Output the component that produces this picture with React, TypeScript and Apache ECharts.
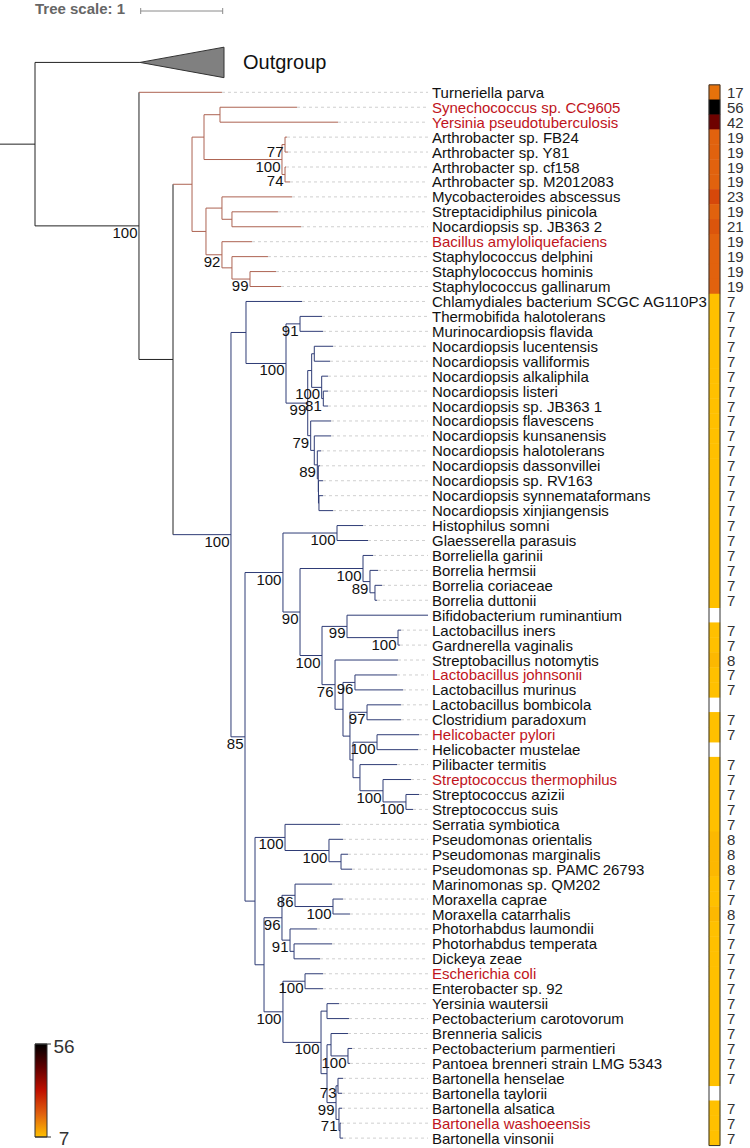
import React, { useEffect, useRef } from "react";
import * as echarts from "echarts";

const FONT = '"Liberation Sans", Arial, Helvetica, sans-serif';

// ---------- data ----------
const leafNames = [
  "Turneriella parva", "Synechococcus sp. CC9605", "Yersinia pseudotuberculosis",
  "Arthrobacter sp. FB24", "Arthrobacter sp. Y81", "Arthrobacter sp. cf158", "Arthrobacter sp. M2012083",
  "Mycobacteroides abscessus", "Streptacidiphilus pinicola", "Nocardiopsis sp. JB363 2",
  "Bacillus amyloliquefaciens", "Staphylococcus delphini", "Staphylococcus hominis", "Staphylococcus gallinarum",
  "Chlamydiales bacterium SCGC AG110P3", "Thermobifida halotolerans", "Murinocardiopsis flavida",
  "Nocardiopsis lucentensis", "Nocardiopsis valliformis", "Nocardiopsis alkaliphila", "Nocardiopsis listeri",
  "Nocardiopsis sp. JB363 1", "Nocardiopsis flavescens", "Nocardiopsis kunsanensis", "Nocardiopsis halotolerans",
  "Nocardiopsis dassonvillei", "Nocardiopsis sp. RV163", "Nocardiopsis synnemataformans", "Nocardiopsis xinjiangensis",
  "Histophilus somni", "Glaesserella parasuis", "Borreliella garinii", "Borrelia hermsii", "Borrelia coriaceae",
  "Borrelia duttonii", "Bifidobacterium ruminantium", "Lactobacillus iners", "Gardnerella vaginalis",
  "Streptobacillus notomytis", "Lactobacillus johnsonii", "Lactobacillus murinus", "Lactobacillus bombicola",
  "Clostridium paradoxum", "Helicobacter pylori", "Helicobacter mustelae", "Pilibacter termitis",
  "Streptococcus thermophilus", "Streptococcus azizii", "Streptococcus suis", "Serratia symbiotica",
  "Pseudomonas orientalis", "Pseudomonas marginalis", "Pseudomonas sp. PAMC 26793", "Marinomonas sp. QM202",
  "Moraxella caprae", "Moraxella catarrhalis", "Photorhabdus laumondii", "Photorhabdus temperata", "Dickeya zeae",
  "Escherichia coli", "Enterobacter sp. 92", "Yersinia wautersii", "Pectobacterium carotovorum", "Brenneria salicis",
  "Pectobacterium parmentieri", "Pantoea brenneri strain LMG 5343", "Bartonella henselae", "Bartonella taylorii",
  "Bartonella alsatica", "Bartonella washoeensis", "Bartonella vinsonii",
];

const highlightedLeaves = [1, 2, 10, 39, 43, 46, 59, 69];

// tip depth of every leaf (tree scale units)
const tipDepth = [
  2.280, 3.195, 3.695, 3.073, 3.085, 3.061, 3.110, 3.134, 2.963, 3.244,
  2.646, 2.841, 2.939, 3.000, 3.256, 3.500, 3.512, 3.634, 3.598, 3.573,
  3.573, 3.573, 3.610, 3.610, 3.488, 3.476, 3.512, 3.512, 3.634, 4.000,
  4.061, 4.122, 4.183, 4.232, 4.171, 4.793, 4.463, 4.451, 4.427, 4.415,
  4.488, 4.463, 4.463, 4.683, 4.671, 4.415, 4.585, 4.683, 4.610, 3.720,
  3.756, 3.817, 3.866, 3.622, 3.756, 3.841, 3.439, 3.622, 3.476, 3.512,
  3.512, 3.707, 3.829, 3.817, 3.866, 3.841, 3.756, 3.744, 3.744, 3.732,
  3.756,
];

// copy numbers (null = absent)
const geneCount: (number | null)[] = [
  17, 56, 42, 19, 19, 19, 19, 23, 19, 21,
  19, 19, 19, 19, 7, 7, 7, 7, 7, 7,
  7, 7, 7, 7, 7, 7, 7, 7, 7, 7,
  7, 7, 7, 7, 7, null, 7, 7, 8, 7,
  7, null, 7, 7, null, 7, 7, 7, 7, 7,
  8, 8, 8, 7, 7, 8, 7, 7, 7, 7,
  7, 7, 7, 7, 7, 7, 7, null, 7, 7,
  7,
];

// internal nodes: [id, depth, children (leaf index or node id), bootstrap]
const treeNodes: [string, number, (string | number)[], string][] = [
  ["root", 0, ["OUT", "A"], ""],
  ["A", 1.268, [0, "B"], "100"],
  ["B", 1.683, ["C", "D"], ""],
  ["C", 1.915, ["CA", "CD"], ""],
  ["CA", 2.061, ["CB", "CC"], ""],
  ["CB", 2.256, [1, 2], ""],
  ["CC", 3.012, ["CC1", "CC2"], "100"],
  ["CC1", 3.049, [3, 4], "77"],
  ["CC2", 3.049, [5, 6], "74"],
  ["CD", 2.085, ["CE", "CG"], ""],
  ["CE", 2.280, [7, "CF"], ""],
  ["CF", 2.402, [8, 9], ""],
  ["CG", 2.280, [10, "CH"], "92"],
  ["CH", 2.402, [11, "CI"], ""],
  ["CI", 2.622, [12, 13], "99"],
  ["D", 2.390, ["E", "F"], "100"],
  ["E", 2.573, [14, "G"], ""],
  ["G", 3.061, ["H", "I"], "100"],
  ["H", 3.232, [15, 16], "91"],
  ["I", 3.326, ["M", "N"], "99"],
  ["M", 3.374, ["J", "K"], ""],
  ["J", 3.406, [17, 18], ""],
  ["K", 3.496, [19, "L"], "100"],
  ["L", 3.516, [20, 21], "81"],
  ["N", 3.362, [22, "O"], "79"],
  ["O", 3.406, [23, "P"], ""],
  ["P", 3.443, [24, "Q"], "89"],
  ["Q", 3.455, [25, "R"], ""],
  ["R", 3.457, [26, "S"], ""],
  ["S", 3.463, [27, 28], ""],
  ["F", 2.561, ["T", "U"], "85"],
  ["T", 3.024, ["W", "X"], "100"],
  ["W", 3.683, [29, 30], "100"],
  ["X", 3.232, ["Y", "AA"], "90"],
  ["Y", 4.000, [31, "Z"], "100"],
  ["Z", 4.085, [32, "Z2"], "89"],
  ["Z2", 4.146, [33, 34], ""],
  ["AA", 3.500, ["AB", "AD"], "100"],
  ["AB", 3.805, [35, "AC"], "99"],
  ["AC", 4.427, [36, 37], "100"],
  ["AD", 3.659, [38, "AE"], "76"],
  ["AE", 3.756, ["AF", "AG"], ""],
  ["AF", 3.902, [39, 40], "96"],
  ["AG", 3.841, ["AH", "AN"], ""],
  ["AH", 4.049, [41, 42], "97"],
  ["AN", 3.878, ["AJ", "AK"], ""],
  ["AJ", 4.171, [43, 44], "100"],
  ["AK", 3.963, [45, "AL"], ""],
  ["AL", 4.244, [46, "AM"], "100"],
  ["AM", 4.524, [47, 48], "100"],
  ["U", 2.683, ["V", "AO"], ""],
  ["V", 3.049, [49, "AP"], "100"],
  ["AP", 3.585, [50, "AQ"], "100"],
  ["AQ", 3.732, [51, 52], ""],
  ["AO", 2.793, ["AR", "AS"], ""],
  ["AR", 3.012, ["BF", "BH"], "96"],
  ["BF", 3.171, [53, "BG"], "86"],
  ["BG", 3.634, [54, 55], "100"],
  ["BH", 3.110, [56, "BI"], "91"],
  ["BI", 3.159, [57, 58], ""],
  ["AS", 3.024, ["AT", "AU"], "100"],
  ["AT", 3.293, [59, 60], "100"],
  ["AU", 3.488, ["AV", "AZ"], "100"],
  ["AV", 3.561, [61, 62], ""],
  ["AZ", 3.561, ["AY", "BE"], ""],
  ["AY", 3.610, [63, "AX"], ""],
  ["AX", 3.817, [64, 65], "100"],
  ["BE", 3.671, ["BB", "BC"], "99"],
  ["BB", 3.695, [66, 67], "73"],
  ["BC", 3.707, [68, "BD"], "71"],
  ["BD", 3.720, [69, 70], ""],
];

const outgroupName = "Outgroup";
const outgroupRow = -2;
const outgroupBranchEnd = 1.28;
const outgroupCladeEnd = 2.305;
const redCladeRoots: (string | number)[] = ["C", 0];
const blueCladeRoots: (string | number)[] = ["D"];
const scaleLength = 1;

// ---------- layout constants ----------
const W = 750;
const H = 1148;
const ROW0 = 92.3;
const ROW_H = 14.94;
const ROOT_PX = 35;
const PX_PER_UNIT = 82;
const LABEL_PX = 432;
const LEADER_END_PX = 428;
const HEAT_LEFT = 709;
const HEAT_W = 11;

const RED = "#ad6352";
const BLUE = "#2f3c76";
const BLACK = "#222222";
const HEAT_COLORS = ["#ffc000", "#e0600e", "#c01000", "#600000", "#000000"];

const pxToDepth = (px: number) => (px - ROOT_PX) / PX_PER_UNIT;
const pxToRow = (py: number) => (py - ROW0) / ROW_H;

// ---------- tree geometry ----------
const nodeMap = new Map(treeNodes.map((n) => [n[0], n]));
const yMemo = new Map<string, number>();
function rowOf(c: string | number): number {
  if (typeof c === "number") return c;
  if (c === "OUT") return outgroupRow;
  if (yMemo.has(c)) return yMemo.get(c)!;
  const kids = nodeMap.get(c)![2];
  const y = (rowOf(kids[0]) + rowOf(kids[kids.length - 1])) / 2;
  yMemo.set(c, y);
  return y;
}
function depthOf(c: string | number): number {
  if (typeof c === "number") return tipDepth[c];
  if (c === "OUT") return outgroupBranchEnd;
  return nodeMap.get(c)![1];
}
function collect(c: string | number, set: Set<string | number>) {
  set.add(c);
  if (typeof c === "string" && nodeMap.has(c)) nodeMap.get(c)![2].forEach((k) => collect(k, set));
}
const redSet = new Set<string | number>();
redCladeRoots.forEach((r) => collect(r, redSet));
const blueSet = new Set<string | number>();
blueCladeRoots.forEach((r) => collect(r, blueSet));
const colorKey = (c: string | number) => (redSet.has(c) ? "red" : blueSet.has(c) ? "blue" : "black");

const segs: Record<string, number[][]> = { red: [], blue: [], black: [] };
treeNodes.forEach(([id, d, kids]) => {
  const y0 = rowOf(kids[0]);
  const y1 = rowOf(kids[kids.length - 1]);
  segs[colorKey(id)].push([d, y0, d, y1]);
  kids.forEach((k) => {
    const yk = rowOf(k);
    segs[colorKey(k)].push([d, yk, depthOf(k), yk]);
  });
});
segs.black.push([pxToDepth(0), rowOf("root"), 0, rowOf("root")]);

const supportData = treeNodes
  .filter((n) => n[3] !== "")
  .map((n) => [n[1], rowOf(n[0])]);
const supportText = treeNodes.filter((n) => n[3] !== "").map((n) => n[3]);

const leaderData = tipDepth
  .map((d, i) => [d, i, pxToDepth(LEADER_END_PX), i])
  .filter((s) => s[0] < s[2]);

export default function App() {
  const ref = useRef<HTMLDivElement>(null);
  useEffect(() => {
    document.body.style.margin = "0";
    const chart = echarts.init(ref.current!, null, { renderer: "svg" });

    const segSeries = (data: number[][], color: string, extra: any = {}) => ({
      type: "custom",
      coordinateSystem: "cartesian2d",
      xAxisIndex: 0,
      yAxisIndex: 0,
      silent: true,
      clip: false,
      encode: { x: [0, 2], y: [1, 3] },
      data,
      renderItem: (_p: any, api: any) => {
        const a = api.coord([api.value(0), api.value(1)]);
        const b = api.coord([api.value(2), api.value(3)]);
        return {
          type: "line",
          shape: { x1: a[0], y1: a[1], x2: b[0], y2: b[1] },
          style: { stroke: color, lineWidth: 1, ...extra },
        };
      },
    });

    const counts = geneCount.filter((v) => v != null) as number[];
    const cMin = Math.min(...counts);
    const cMax = Math.max(...counts);

    const heatTop = ROW0 - ROW_H / 2;
    const heatH = ROW_H * leafNames.length;

    const legendX = 35;
    const legendY = 1044;
    const legendH = 93;

    const series: any[] = [
      segSeries(leaderData, "#cfcfcf", { lineDash: [3, 3] }),
      segSeries(segs.black, BLACK),
      segSeries(segs.red, RED),
      segSeries(segs.blue, BLUE),
      {
        type: "custom",
        coordinateSystem: "cartesian2d",
        xAxisIndex: 0,
        yAxisIndex: 0,
        silent: true,
        clip: false,
        data: supportData,
        renderItem: (p: any, api: any) => {
          const a = api.coord([api.value(0), api.value(1)]);
          return {
            type: "text",
            x: a[0] - 1.5,
            y: a[1] + 6.5,
            style: {
              text: supportText[p.dataIndex],
              fontSize: 15,
              lineHeight: 11,
              fontFamily: FONT,
              fill: "#111",
              align: "right",
              verticalAlign: "middle",
            },
          };
        },
      },
      {
        // collapsed outgroup
        type: "custom",
        coordinateSystem: "cartesian2d",
        xAxisIndex: 0,
        yAxisIndex: 0,
        silent: true,
        clip: false,
        data: [[outgroupBranchEnd, outgroupRow, outgroupCladeEnd]],
        renderItem: (_p: any, api: any) => {
          const a = api.coord([api.value(0), api.value(1)]);
          const top = api.coord([api.value(2), api.value(1) - 1.02]);
          const bot = api.coord([api.value(2), api.value(1) + 1.02]);
          return {
            type: "group",
            children: [
              {
                type: "polygon",
                shape: { points: [a, top, bot] },
                style: { fill: "#808080", stroke: "#333", lineWidth: 1 },
              },
              {
                type: "text",
                x: top[0] + 19,
                y: a[1],
                style: {
                  text: outgroupName,
                  fontSize: 20,
                  fontFamily: FONT,
                  fill: "#111",
                  align: "left",
                  verticalAlign: "middle",
                },
              },
            ],
          };
        },
      },
      {
        // tree scale bar
        type: "custom",
        coordinateSystem: "cartesian2d",
        xAxisIndex: 0,
        yAxisIndex: 0,
        silent: true,
        clip: false,
        data: [[pxToDepth(140.7), pxToRow(11)]],
        renderItem: (_p: any, api: any) => {
          const a = api.coord([api.value(0), api.value(1)]);
          const b = api.coord([api.value(0) + scaleLength, api.value(1)]);
          const st = { stroke: "#8a8a8a", lineWidth: 1 };
          return {
            type: "group",
            children: [
              { type: "line", shape: { x1: a[0], y1: a[1], x2: b[0], y2: b[1] }, style: st },
              { type: "line", shape: { x1: a[0], y1: a[1] - 3, x2: a[0], y2: a[1] + 3 }, style: st },
              { type: "line", shape: { x1: b[0], y1: b[1] - 3, x2: b[0], y2: b[1] + 3 }, style: st },
            ],
          };
        },
      },
      {
        type: "heatmap",
        xAxisIndex: 1,
        yAxisIndex: 1,
        data: geneCount
          .map((v, i) => (v == null ? null : [0, i, v]))
          .filter((d) => d !== null),
        itemStyle: { borderWidth: 0 },
        silent: true,
      },
      {
        type: "custom",
        xAxisIndex: 1,
        yAxisIndex: 1,
        silent: true,
        z: 5,
        data: [[0, 0]],
        renderItem: (p: any) => {
          const cs = p.coordSys;
          return {
            type: "rect",
            shape: { x: cs.x, y: cs.y, width: cs.width, height: cs.height },
            style: { fill: "none", stroke: "#333", lineWidth: 1 },
          };
        },
      },
    ];
    const heatIndex = series.findIndex((s) => s.type === "heatmap");

    chart.setOption({
      animation: false,
      backgroundColor: "#fff",
      title: {
        text: "Tree scale: " + scaleLength,
        left: ROOT_PX,
        top: 1,
        padding: 0,
        textStyle: { fontSize: 15, fontWeight: "bold", color: "#666", fontFamily: FONT },
      },
      grid: [
        { left: 0, right: 0, top: 0, bottom: 0 },
        {
          left: HEAT_LEFT,
          width: HEAT_W,
          top: heatTop,
          height: heatH,
          show: true,
          backgroundColor: "#fff",
          borderWidth: 0,
        },
      ],
      xAxis: [
        { type: "value", gridIndex: 0, min: pxToDepth(0), max: pxToDepth(W), show: false },
        { type: "category", gridIndex: 1, data: [""], show: false },
      ],
      yAxis: [
        { type: "value", gridIndex: 0, inverse: true, min: pxToRow(0), max: pxToRow(H), show: false },
        {
          type: "category",
          gridIndex: 1,
          inverse: true,
          position: "left",
          data: leafNames,
          axisLine: { show: false },
          axisTick: { show: false },
          splitLine: { show: false },
          axisLabel: {
            interval: 0,
            align: "left",
            margin: HEAT_LEFT - LABEL_PX,
            formatter: (v: string, i: number) => (highlightedLeaves.includes(i) ? `{r|${v}}` : `{n|${v}}`),
            rich: {
              r: { color: "#c0141c", fontSize: 15, lineHeight: 14, fontFamily: FONT },
              n: { color: "#111", fontSize: 15, lineHeight: 14, fontFamily: FONT },
            },
          },
        },
        {
          type: "category",
          gridIndex: 1,
          inverse: true,
          position: "right",
          data: leafNames,
          axisLine: { show: false },
          axisTick: { show: false },
          splitLine: { show: false },
          axisLabel: {
            interval: 0,
            margin: 7,
            fontSize: 15,
            lineHeight: 14,
            color: "#333",
            fontFamily: FONT,
            formatter: (_v: string, i: number) => (geneCount[i] == null ? "" : String(geneCount[i])),
          },
        },
      ],
      visualMap: {
        show: false,
        type: "continuous",
        min: cMin,
        max: cMax,
        dimension: 2,
        seriesIndex: heatIndex,
        inRange: { color: HEAT_COLORS },
      },
      graphic: [
        {
          type: "rect",
          shape: { x: legendX, y: legendY, width: 12, height: legendH },
          style: {
            fill: new echarts.graphic.LinearGradient(
              0, 0, 0, 1,
              HEAT_COLORS.slice().reverse().map((c, i, arr) => ({ offset: i / (arr.length - 1), color: c }))
            ),
            stroke: "#333",
            lineWidth: 1,
          },
        },
        { type: "line", shape: { x1: legendX, y1: legendY, x2: legendX + 16, y2: legendY }, style: { stroke: "#333", lineWidth: 1 } },
        { type: "line", shape: { x1: legendX, y1: legendY + legendH, x2: legendX + 16, y2: legendY + legendH }, style: { stroke: "#333", lineWidth: 1 } },
        {
          type: "text",
          x: 64,
          y: legendY + 2,
          style: { text: String(cMax), fontSize: 19, fontFamily: FONT, fill: "#333", align: "center", verticalAlign: "middle" },
        },
        {
          type: "text",
          x: 64,
          y: legendY + legendH + 1,
          style: { text: String(cMin), fontSize: 19, fontFamily: FONT, fill: "#333", align: "center", verticalAlign: "middle" },
        },
      ],
      series,
    });
    return () => chart.dispose();
  }, []);
  return <div ref={ref} style={{ width: W, height: H }} />;
}
